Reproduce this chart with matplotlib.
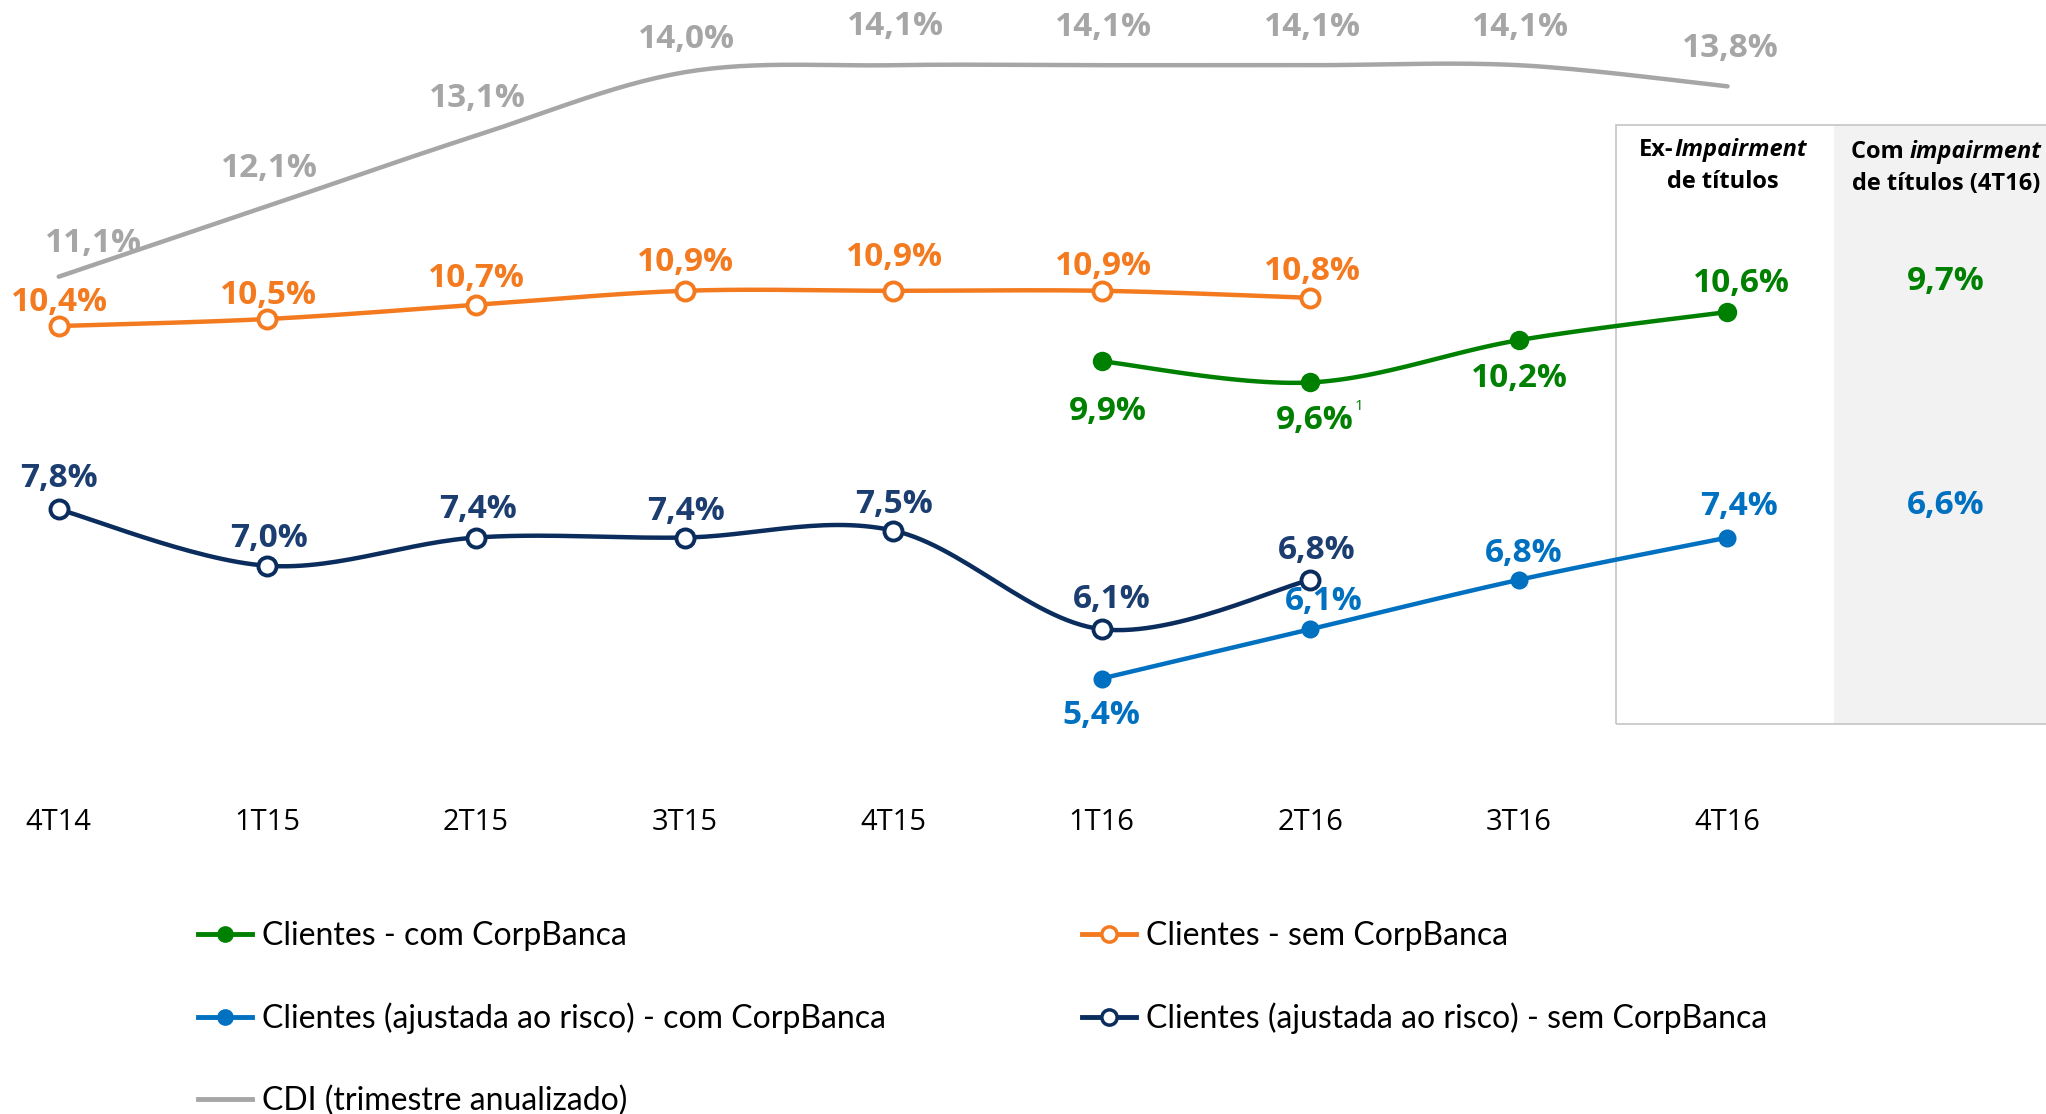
import numpy as np
import matplotlib
matplotlib.use("Agg")
import matplotlib.pyplot as plt
from matplotlib.lines import Line2D
from matplotlib.patches import Rectangle
from matplotlib import font_manager

# ---------------- data ----------------
quarters = ['4T14', '1T15', '2T15', '3T15', '4T15', '1T16', '2T16', '3T16', '4T16']
cdi = [11.1, 12.1, 13.1, 14.0, 14.1, 14.1, 14.1, 14.1, 13.8]
sem_corp = [10.4, 10.5, 10.7, 10.9, 10.9, 10.9, 10.8]          # 4T14..2T16
com_corp = [9.9, 9.6, 10.2, 10.6]                               # 1T16..4T16
ajust_sem_corp = [7.8, 7.0, 7.4, 7.4, 7.5, 6.1, 6.8]            # 4T14..2T16
ajust_com_corp = [5.4, 6.1, 6.8, 7.4]                           # 1T16..4T16
impair_com_corp = 9.7
impair_ajust_com_corp = 6.6

labels_legend = ['Clientes - com CorpBanca',
                 'Clientes (ajustada ao risco) - com CorpBanca',
                 'CDI (trimestre anualizado)',
                 'Clientes - sem CorpBanca',
                 'Clientes (ajustada ao risco) - sem CorpBanca']

# ---------------- style ----------------
GREEN = '#008000'
ORANGE = '#F47A20'
BLUE = '#0070C0'
NAVY = '#0A2D5E'
NAVY_TXT = '#1B3D70'
GRAY = '#A6A6A6'

LBL_FONT = ['Open Sans', 'DejaVu Sans']


def first_available(names):
    for n in names:
        try:
            font_manager.findfont(font_manager.FontProperties(family=n), fallback_to_default=False)
            return n
        except Exception:
            continue
    return 'DejaVu Sans'


LEG_NAME = first_available(['Liberation Sans Narrow', 'Lato', 'Open Sans'])
LEG_SIZE = 24 if LEG_NAME == 'Liberation Sans Narrow' else 23
plt.rcParams['font.family'] = LBL_FONT

W, H = 2046, 1114
fig = plt.figure(figsize=(W / 100, H / 100), dpi=100)
AX_BOTTOM_PX = 790
ax = fig.add_axes([0, 1 - AX_BOTTOM_PX / H, 1, AX_BOTTOM_PX / H])

X0, DX = 58.7, 208.6          # pixel of first category, pixel spacing
Y0, DY, V0 = 276.7, 70.5, 11.1
ax.set_xlim(-X0 / DX, (W - X0) / DX)
ax.set_ylim(V0 - (AX_BOTTOM_PX - Y0) / DY, V0 + Y0 / DY)
for s in ax.spines.values():
    s.set_visible(False)
ax.set_yticks([])
ax.set_xticks(range(len(quarters)))
ax.set_xticklabels(quarters, fontsize=21, color='black')
ax.tick_params(axis='x', length=0, pad=13)


def smooth(x, y, n=30):
    P = np.column_stack([np.asarray(x, float), np.asarray(y, float)])
    P = np.vstack([P[0], P, P[-1]])
    t = np.linspace(0, 1, n, endpoint=False)[:, None]
    h00 = 2 * t**3 - 3 * t**2 + 1
    h10 = t**3 - 2 * t**2 + t
    h01 = -2 * t**3 + 3 * t**2
    h11 = t**3 - t**2
    segs = []
    for i in range(1, len(P) - 2):
        p0, p1, p2, p3 = P[i - 1], P[i], P[i + 1], P[i + 2]
        m1 = (p2 - p0) / 2
        m2 = (p3 - p1) / 2
        segs.append(h00 * p1 + h10 * m1 + h01 * p2 + h11 * m2)
    segs.append(P[-2][None, :])
    c = np.vstack(segs)
    return c[:, 0], c[:, 1]


def series(xs, ys, color, filled, lw=3.2, ms=14):
    sx, sy = smooth(xs, ys)
    ax.plot(sx, sy, color=color, lw=lw, solid_capstyle='round', zorder=3)
    if filled is None:
        return
    if filled:
        ax.plot(xs, ys, 'o', ms=ms, mfc=color, mec=color, mew=0, zorder=4)
    else:
        ax.plot(xs, ys, 'o', ms=ms - 1, mfc='white', mec=color, mew=2.8, zorder=4)


x_all = list(range(len(quarters)))
x_sem = x_all[:len(sem_corp)]
x_com = x_all[5:5 + len(com_corp)]

series(x_all, cdi, GRAY, None, lw=3.2)
series(x_sem, sem_corp, ORANGE, False)
series(x_sem, ajust_sem_corp, NAVY, False)
series(x_com, com_corp, GREEN, True)
series(x_com, ajust_com_corp, BLUE, True, ms=13)


def fmt(v):
    return f"{v:.1f}%".replace('.', ',')


def labels(xs, ys, color, offsets, size=24):
    for x, y, (dx, dy) in zip(xs, ys, offsets):
        ax.annotate(fmt(y), (x, y), xytext=(dx, dy), textcoords='offset pixels',
                    ha='center', va='center', fontsize=size, fontweight='bold',
                    color=color, zorder=5)


labels(x_all, cdi, GRAY, [(35, 33), (2, 38), (2, 37), (2, 33), (2, 39), (2, 38), (2, 38), (2, 38), (3, 38)])
labels(x_sem, sem_corp, ORANGE, [(1, 24), (1, 24), (1, 26), (1, 28), (1, 33), (2, 24), (2, 26)])
labels(x_sem, ajust_sem_corp, NAVY_TXT, [(0, 31), (2, 27), (2, 28), (1, 26), (1, 26), (10, 30), (6, 29)])
labels(x_com, com_corp, GREEN, [(6, -50), (4, -38), (1, -38), (14, 28)])
labels(x_com, ajust_com_corp, BLUE, [(0, -37), (13, 28), (5, 26), (12, 31)])

# footnote marker on 2T16 green label
ax.annotate('1', (x_com[1], com_corp[1]), xytext=(49, -24), textcoords='offset pixels',
            ha='center', va='center', fontsize=11, color=GREEN, zorder=5)

# ---------------- right panel ----------------
def xd(px):
    return (px - X0) / DX


def yd(py):
    return V0 - (py - Y0) / DY


box_l, box_r, box_t, box_b = xd(1616), xd(W + 20), yd(125), yd(724)
gray_l = xd(1834)
ax.add_patch(Rectangle((gray_l, box_b), box_r - gray_l, box_t - box_b,
                       facecolor='#F2F2F2', edgecolor='none', zorder=0, clip_on=False))
ax.add_patch(Rectangle((box_l, box_b), box_r - box_l, box_t - box_b,
                       facecolor='none', edgecolor='#C9C9C9', lw=1.3, zorder=1, clip_on=False))

renderer = fig.canvas.get_renderer()


def mixed(xc, yc, parts, size=17):
    """parts: list of (text, italic) drawn bold, centered at data (xc, yc)."""
    arts = []
    for txt, it in parts:
        t = ax.annotate(txt, (xc, yc), xytext=(0, 0), textcoords='offset pixels',
                        ha='left', va='center', fontsize=size, fontweight='bold',
                        fontstyle='italic' if it else 'normal', color='black', zorder=5)
        arts.append(t)
    widths = [a.get_window_extent(renderer).width for a in arts]
    total = sum(widths)
    off = -total / 2
    for a, w in zip(arts, widths):
        a.set_position((off, 0))
        off += w


cx1 = xd(1723)
cx2 = xd(1946)
mixed(cx1, yd(150), [('Ex-', False), ('Impairment', True)])
mixed(cx1, yd(182), [('de títulos', False)])
mixed(cx2, yd(152), [('Com ', False), ('impairment', True)])
mixed(cx2, yd(184), [('de títulos (4T16)', False)])

ax.text(cx2, yd(281), fmt(impair_com_corp), ha='center', va='center', fontsize=24,
        fontweight='bold', color=GREEN, zorder=5)
ax.text(cx2, yd(506), fmt(impair_ajust_com_corp), ha='center', va='center', fontsize=24,
        fontweight='bold', color=BLUE, zorder=5)

# ---------------- legend ----------------
def handle(color, kind):
    if kind == 'filled':
        return Line2D([], [], color=color, lw=3.5, marker='o', ms=11, mfc=color, mec=color)
    if kind == 'open':
        return Line2D([], [], color=color, lw=3.5, marker='o', ms=11, mfc='white', mec=color, mew=2.5)
    return Line2D([], [], color=color, lw=3.5)


h_col1 = [handle(GREEN, 'filled'), handle(BLUE, 'filled'), handle(GRAY, 'line')]
h_col2 = [handle(ORANGE, 'open'), handle(NAVY, 'open')]
leg_kw = dict(loc='upper left', frameon=False, prop={'family': [LEG_NAME, 'DejaVu Sans'], 'size': LEG_SIZE},
              handlelength=1.7, handletextpad=0.3, labelspacing=1.62, borderpad=0,
              borderaxespad=0)
top_frac = 1 - 921 / H
leg1 = fig.legend(h_col1, labels_legend[:3], bbox_to_anchor=(198 / W, top_frac), **leg_kw)
leg2 = fig.legend(h_col2, labels_legend[3:], bbox_to_anchor=(1082 / W, top_frac), **leg_kw)

fig.savefig('out.png', dpi=100)
